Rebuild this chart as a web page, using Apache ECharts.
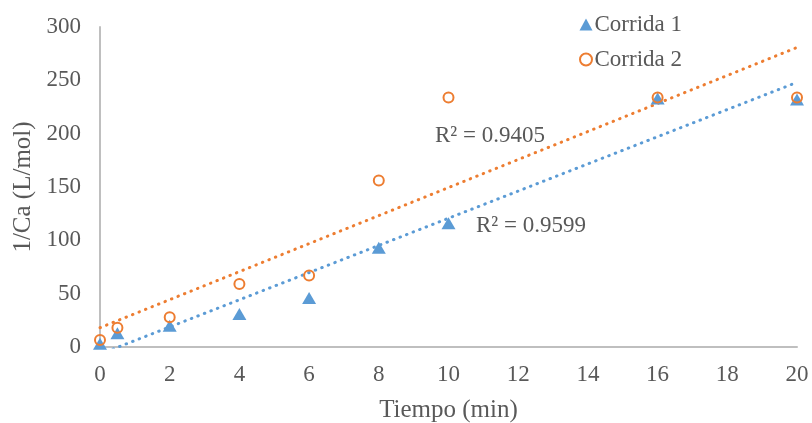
<!DOCTYPE html>
<html>
<head>
<meta charset="utf-8">
<script src="https://cdn.jsdelivr.net/npm/echarts@6/dist/echarts.min.js"></script>
<style>
  html, body { margin: 0; padding: 0; background: #fff; }
  #chart { width: 812px; height: 423px; }
</style>
</head>
<body>
<div id="chart"></div>
<script>
// tiempo (min) por medición
const tiempo = [0, 0.5, 2, 4, 6, 8, 10, 16, 20]
// 1/Ca (L/mol)
const corrida1 = [3, 13, 20, 31, 46, 93, 116, 233, 232]
const corrida2 = [6.5, 18, 28, 59, 67, 156, 234, 234, 234]
const r2Labels = ['R² = 0.9599', 'R² = 0.9405']

const COLOR_1 = '#5B9BD5'   // azul
const COLOR_2 = '#ED7D31'   // naranja
const TEXT    = '#595959'
const FONT    = '"Liberation Serif", "Times New Roman", serif'

// línea de tendencia lineal (mínimos cuadrados), como en Excel
function trend(xs, ys) {
  const n = xs.length
  const mx = xs.reduce((a, b) => a + b, 0) / n
  const my = ys.reduce((a, b) => a + b, 0) / n
  let sxy = 0, sxx = 0
  xs.forEach((x, i) => { sxy += (x - mx) * (ys[i] - my); sxx += (x - mx) ** 2 })
  const m = sxy / sxx, b = my - m * mx
  const x0 = Math.min(...xs), x1 = Math.max(...xs)
  return [[x0, m * x0 + b], [x1, m * x1 + b]]
}

const pts = ys => tiempo.map((t, i) => [t, ys[i]])

const dotted = color => ({ color, width: 3, type: [0.5, 6.5], cap: 'round' })

const chart = echarts.init(document.getElementById('chart'))
chart.setOption({
  animation: false,
  grid: { left: 100, right: 15, top: 27, bottom: 76, outerBoundsMode: 'none', containLabel: false },
  legend: {
    orient: 'vertical',
    left: 574,
    top: 8,
    itemWidth: 13,
    itemHeight: 12,
    itemGap: 12,
    textStyle: { fontFamily: FONT, fontSize: 23, color: TEXT, padding: [0, 0, 0, -3] },
    data: [
      { name: 'Corrida 1', icon: 'triangle' },
      { name: 'Corrida 2', icon: 'circle' },
    ],
  },
  xAxis: {
    type: 'value',
    min: 0, max: 20, interval: 2,
    name: 'Tiempo (min)',
    nameLocation: 'middle',
    nameGap: 51,
    nameTextStyle: { fontFamily: FONT, fontSize: 25, color: TEXT },
    axisLine: { lineStyle: { color: '#BFBFBF', width: 2 } },
    axisTick: { show: false },
    splitLine: { show: false },
    axisLabel: { fontFamily: FONT, fontSize: 23, color: TEXT, margin: 16 },
  },
  yAxis: {
    type: 'value',
    min: 0, max: 300, interval: 50,
    name: '1/Ca (L/mol)',
    nameLocation: 'middle',
    nameGap: 59,
    nameTextStyle: { fontFamily: FONT, fontSize: 25, color: TEXT },
    axisLine: { show: true, lineStyle: { color: '#BFBFBF', width: 2 } },
    axisTick: { show: false },
    splitLine: { show: false },
    axisLabel: { fontFamily: FONT, fontSize: 23, color: TEXT, margin: 19 },
  },
  graphic: [
    { type: 'text', style: { text: r2Labels[1], x: 435, y: 136, verticalAlign: 'middle', font: '23px ' + FONT, fill: TEXT } },
    { type: 'text', style: { text: r2Labels[0], x: 476, y: 226, verticalAlign: 'middle', font: '23px ' + FONT, fill: TEXT } },
  ],
  series: [
    {
      name: 'Tendencia 1',
      type: 'line',
      data: trend(tiempo, corrida1),
      symbol: 'none',
      lineStyle: dotted(COLOR_1),
      clip: true,
      z: 1,
    },
    {
      name: 'Tendencia 2',
      type: 'line',
      data: trend(tiempo, corrida2),
      symbol: 'none',
      lineStyle: dotted(COLOR_2),
      clip: true,
      z: 1,
    },
    {
      name: 'Corrida 1',
      type: 'scatter',
      data: pts(corrida1),
      symbol: 'triangle',
      symbolSize: [14, 12],
      itemStyle: { color: COLOR_1, opacity: 1 },
      z: 3,
    },
    {
      name: 'Corrida 2',
      type: 'scatter',
      data: pts(corrida2),
      symbol: 'circle',
      symbolSize: 10,
      itemStyle: { color: 'rgba(255,255,255,0)', borderColor: COLOR_2, borderWidth: 2, opacity: 1 },
      z: 4,
    },
  ],
})
</script>
</body>
</html>
